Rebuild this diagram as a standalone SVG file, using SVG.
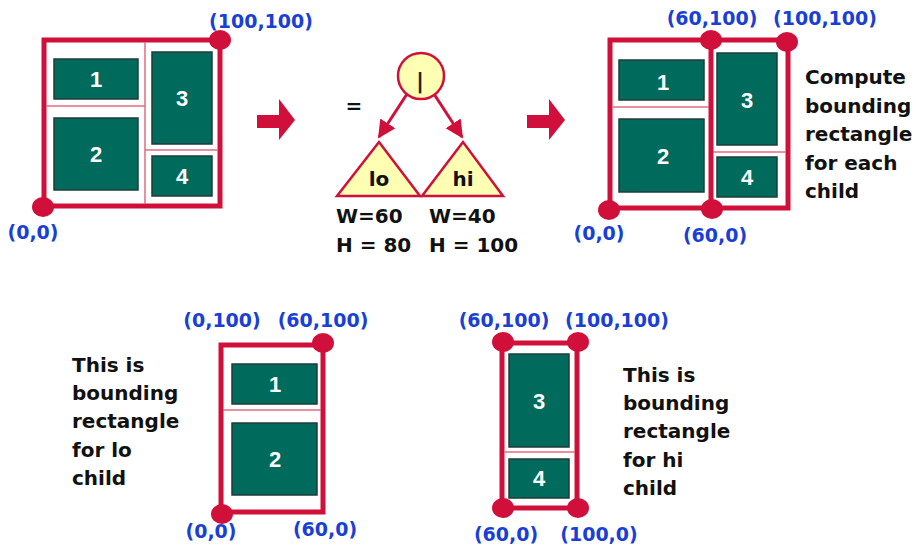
<svg xmlns="http://www.w3.org/2000/svg" width="916" height="553" viewBox="0 0 916 553">
<defs>
<style>
.frame{fill:none;stroke:#d0103a;stroke-width:5}
.div{stroke:#e06c80;stroke-width:1.5}
.thick{stroke:#d0103a;stroke-width:5}
.dot{fill:#d0103a}
.box{fill:#006a5d;stroke:#1e3d38;stroke-width:1.5}
.num{font-family:"Liberation Sans",Arial,sans-serif;font-weight:bold;font-size:22px;fill:#ffffff;text-anchor:middle}
.coord{font-family:"DejaVu Sans",sans-serif;font-weight:bold;font-size:19px;fill:#1a3fd6;text-anchor:middle}
.lbl{font-family:"DejaVu Sans",sans-serif;font-weight:bold;font-size:20px;fill:#111111}
.tri{fill:#ffffb4;stroke:#d0103a;stroke-width:2.5}
.edge{stroke:#d0103a;stroke-width:3;fill:none}
.block{fill:#d0103a}
</style>
<marker id="ah" viewBox="0 0 10 10" refX="9" refY="5" markerWidth="6" markerHeight="6" orient="auto" markerUnits="strokeWidth">
<path d="M0,0 L10,5 L0,10 z" fill="#d0103a"/>
</marker>
</defs>

<!-- Panel 1: full layout -->
<g id="panel-full">
<rect class="frame" x="44" y="40" width="176" height="166"/>
<line class="div" x1="145" y1="42" x2="145" y2="204"/>
<line class="div" x1="46" y1="106" x2="145" y2="106"/>
<line class="div" x1="145" y1="150" x2="218" y2="150"/>
<rect class="box" x="54" y="59" width="84" height="40"/>
<rect class="box" x="54" y="118" width="84" height="72"/>
<rect class="box" x="152" y="52" width="60" height="92"/>
<rect class="box" x="152" y="156" width="60" height="40"/>
<text class="num" x="96" y="87">1</text>
<text class="num" x="96" y="162">2</text>
<text class="num" x="182" y="106">3</text>
<text class="num" x="182" y="184">4</text>
<ellipse class="dot" cx="220" cy="40" rx="11" ry="10"/>
<ellipse class="dot" cx="43" cy="207" rx="11" ry="10"/>
<text class="coord" x="261" y="28">(100,100)</text>
<text class="coord" x="33" y="239">(0,0)</text>
</g>

<!-- Block arrows -->
<g id="arrow-1"><path class="block" d="M257,115 H279 V99 L295,120 L279,140 V128 H257 Z"/></g>
<g id="arrow-2"><path class="block" d="M527,115 H549 V99 L565,120 L549,140 V128 H527 Z"/></g>

<!-- Tree -->
<g id="eq"><text class="lbl" x="354" y="113" text-anchor="middle">=</text></g>
<g id="node-root">
<circle cx="421" cy="76" r="23" fill="#ffffb4" stroke="#d0103a" stroke-width="2.5"/>
<text x="420" y="88" font-family="DejaVu Sans,sans-serif" font-weight="bold" font-size="22" fill="#222" text-anchor="middle">|</text>
</g>
<g id="node-lo">
<polygon class="tri" points="379,142 337,196 420,196"/>
<text class="lbl" x="379" y="186" font-size="19" text-anchor="middle">lo</text>
<text class="lbl" x="336" y="223">W=60</text>
<text class="lbl" x="336" y="252">H = 80</text>
</g>
<g id="node-hi">
<polygon class="tri" points="463,142 422,196 503,196"/>
<text class="lbl" x="463" y="186" font-size="19" text-anchor="middle">hi</text>
<text class="lbl" x="429" y="223">W=40</text>
<text class="lbl" x="429" y="252">H = 100</text>
</g>
<g id="connectors">
<line class="edge" x1="407" y1="94" x2="379" y2="137" marker-end="url(#ah)"/>
<line class="edge" x1="434" y1="94" x2="462" y2="137" marker-end="url(#ah)"/>
</g>

<!-- Panel 2: split -->
<g id="panel-split">
<rect class="frame" x="610" y="40" width="178" height="168"/>
<line class="thick" x1="711" y1="40" x2="711" y2="208"/>
<line class="div" x1="612" y1="107" x2="709" y2="107"/>
<line class="div" x1="713" y1="152" x2="786" y2="152"/>
<rect class="box" x="619" y="60" width="85" height="40"/>
<rect class="box" x="619" y="119" width="85" height="73"/>
<rect class="box" x="717" y="53" width="60" height="92"/>
<rect class="box" x="717" y="157" width="60" height="40"/>
<text class="num" x="663" y="90">1</text>
<text class="num" x="663" y="164">2</text>
<text class="num" x="747" y="108">3</text>
<text class="num" x="747" y="185">4</text>
<ellipse class="dot" cx="711" cy="40" rx="11" ry="10"/>
<ellipse class="dot" cx="787" cy="42" rx="11" ry="10"/>
<ellipse class="dot" cx="609" cy="210" rx="11" ry="10"/>
<ellipse class="dot" cx="712" cy="209" rx="11" ry="10"/>
<text class="coord" x="712" y="25">(60,100)</text>
<text class="coord" x="825" y="25">(100,100)</text>
<text class="coord" x="599" y="240">(0,0)</text>
<text class="coord" x="715" y="242">(60,0)</text>
<text class="lbl" x="805" y="84">Compute</text>
<text class="lbl" x="805" y="113">bounding</text>
<text class="lbl" x="805" y="141">rectangle</text>
<text class="lbl" x="805" y="170">for each</text>
<text class="lbl" x="805" y="198">child</text>
</g>

<!-- Panel 3: lo child -->
<g id="panel-lo">
<rect class="frame" x="221" y="345" width="102" height="167"/>
<line class="div" x1="223" y1="410" x2="321" y2="410"/>
<rect class="box" x="232" y="364" width="85" height="40"/>
<rect class="box" x="232" y="423" width="85" height="72"/>
<text class="num" x="275" y="392">1</text>
<text class="num" x="275" y="467">2</text>
<ellipse class="dot" cx="323" cy="343" rx="11" ry="10"/>
<ellipse class="dot" cx="222" cy="514" rx="11" ry="10"/>
<text class="coord" x="222" y="327">(0,100)</text>
<text class="coord" x="323" y="327">(60,100)</text>
<text class="coord" x="211" y="538">(0,0)</text>
<text class="coord" x="325" y="536">(60,0)</text>
<text class="lbl" x="72" y="372">This is</text>
<text class="lbl" x="72" y="400">bounding</text>
<text class="lbl" x="72" y="428">rectangle</text>
<text class="lbl" x="72" y="457">for lo</text>
<text class="lbl" x="72" y="485">child</text>
</g>

<!-- Panel 4: hi child -->
<g id="panel-hi">
<rect class="frame" x="502" y="343" width="75" height="165"/>
<line class="div" x1="504" y1="452" x2="575" y2="452"/>
<rect class="box" x="509" y="354" width="60" height="93"/>
<rect class="box" x="509" y="459" width="60" height="39"/>
<text class="num" x="539" y="409">3</text>
<text class="num" x="539" y="486">4</text>
<ellipse class="dot" cx="503" cy="342" rx="11" ry="10"/>
<ellipse class="dot" cx="578" cy="342" rx="11" ry="10"/>
<ellipse class="dot" cx="503" cy="508" rx="11" ry="10"/>
<ellipse class="dot" cx="578" cy="508" rx="11" ry="10"/>
<text class="coord" x="504" y="327">(60,100)</text>
<text class="coord" x="617" y="327">(100,100)</text>
<text class="coord" x="506" y="541">(60,0)</text>
<text class="coord" x="599" y="541">(100,0)</text>
<text class="lbl" x="623" y="382">This is</text>
<text class="lbl" x="623" y="410">bounding</text>
<text class="lbl" x="623" y="438">rectangle</text>
<text class="lbl" x="623" y="467">for hi</text>
<text class="lbl" x="623" y="495">child</text>
</g>
</svg>
